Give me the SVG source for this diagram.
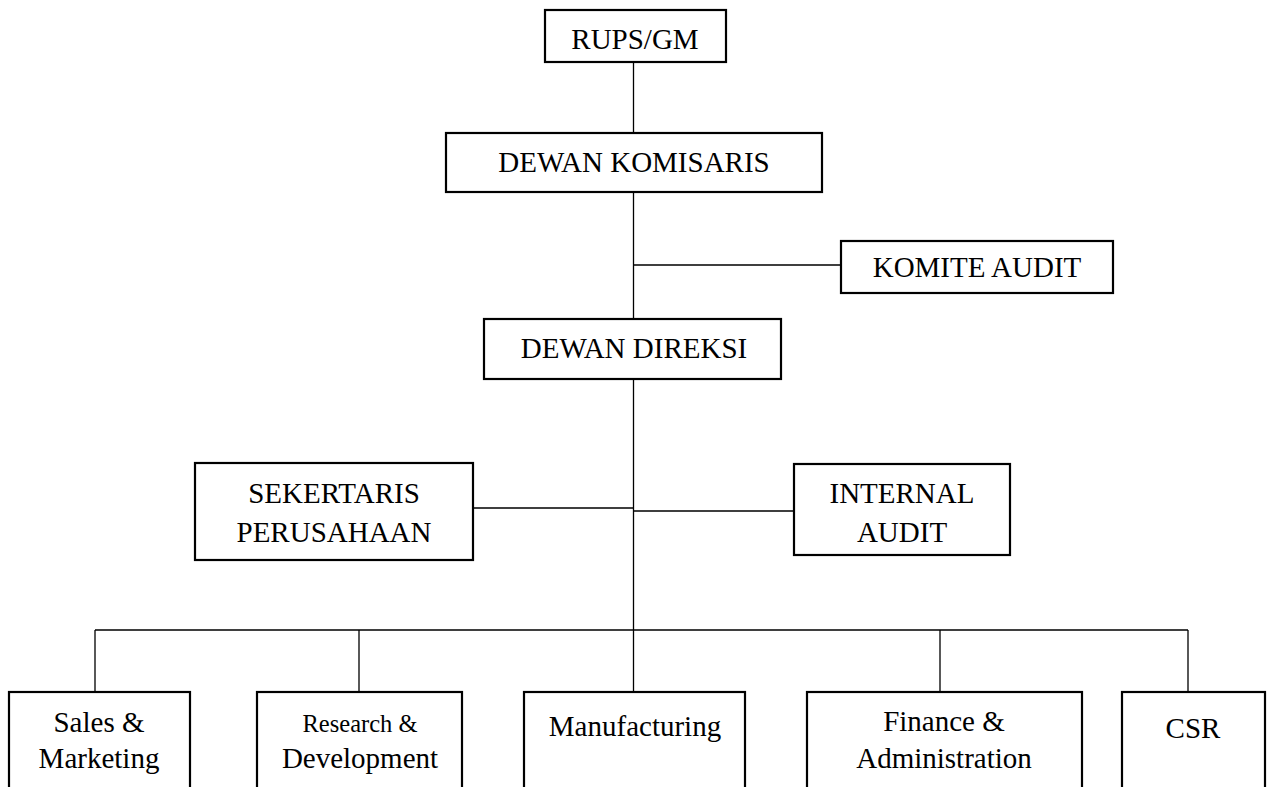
<svg xmlns="http://www.w3.org/2000/svg" width="1268" height="787" viewBox="0 0 1268 787">
<style>
.box{fill:#fff;stroke:#000;stroke-width:2.2}
.t{font-family:"Liberation Serif","Times New Roman",serif;font-size:29px;fill:#000;text-anchor:middle}
.s{font-size:24.5px}
.c{fill:none;stroke:#000;stroke-width:1.3}
</style>
<rect width="1268" height="787" fill="#fff"/>
<g id="connectors">
<path class="c" d="M633.5 62V133M633.5 192V319M633.5 379V630M633.5 265H841M473 508H633.5M633.5 511H794M95 630H1188M95 630V692M359 630V692M633.5 630V692M940 630V692M1188 630V692"/>
</g>
<g id="rups"><rect class="box" x="545" y="10" width="181" height="52"/><text class="t" x="635" y="49">RUPS/GM</text></g>
<g id="komisaris"><rect class="box" x="446" y="133" width="376" height="59"/><text class="t" x="634" y="172">DEWAN KOMISARIS</text></g>
<g id="komite"><rect class="box" x="841" y="241" width="272" height="52"/><text class="t" x="977" y="277">KOMITE AUDIT</text></g>
<g id="direksi"><rect class="box" x="484" y="319" width="297" height="60"/><text class="t" x="634" y="358">DEWAN DIREKSI</text></g>
<g id="sekretaris"><rect class="box" x="195" y="463" width="278" height="97"/><text class="t" x="334" y="503">SEKERTARIS</text><text class="t" x="334" y="542">PERUSAHAAN</text></g>
<g id="internal"><rect class="box" x="794" y="464" width="216" height="91"/><text class="t" x="902" y="503">INTERNAL</text><text class="t" x="902" y="542">AUDIT</text></g>
<g id="sales"><rect class="box" x="9" y="692" width="181" height="110"/><text class="t" x="99" y="732">Sales &amp;</text><text class="t" x="99" y="768">Marketing</text></g>
<g id="rnd"><rect class="box" x="257" y="692" width="205" height="110"/><text class="t s" x="360" y="732">Research &amp;</text><text class="t" x="360" y="768">Development</text></g>
<g id="manufacturing"><rect class="box" x="524" y="692" width="221" height="110"/><text class="t" x="635" y="736">Manufacturing</text></g>
<g id="finance"><rect class="box" x="807" y="692" width="275" height="110"/><text class="t" x="944" y="731">Finance &amp;</text><text class="t" x="944" y="768">Administration</text></g>
<g id="csr"><rect class="box" x="1122" y="692" width="143" height="110"/><text class="t" x="1193" y="738">CSR</text></g>
</svg>
